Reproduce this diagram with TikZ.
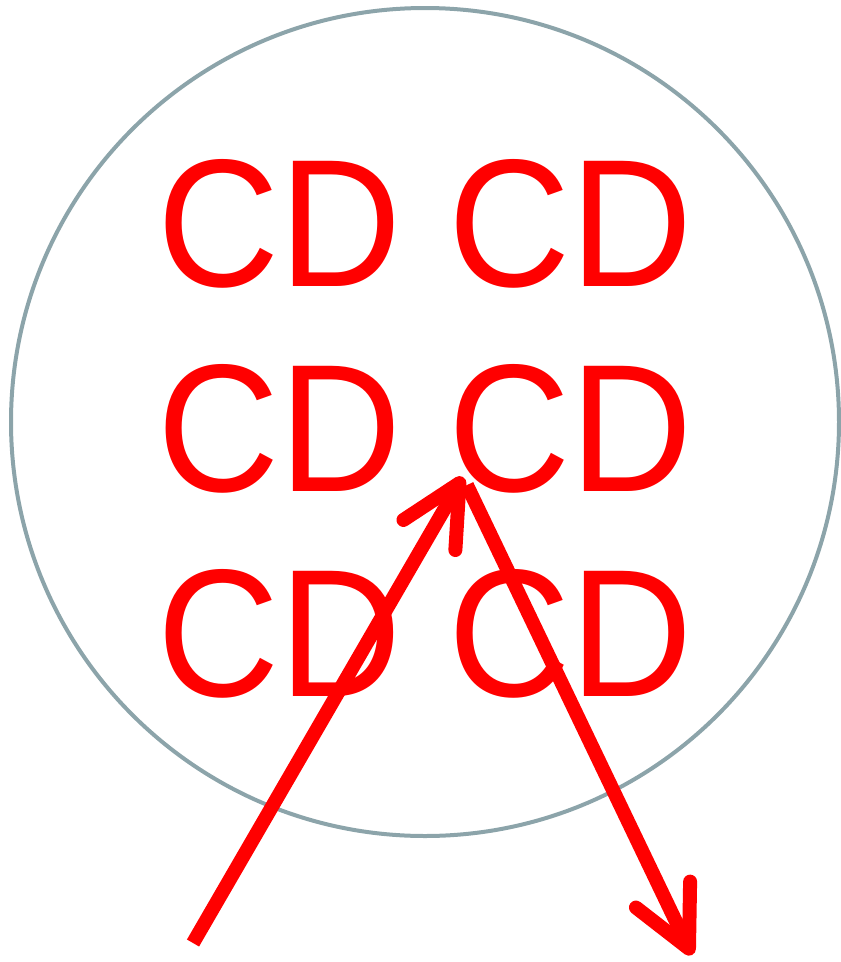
\documentclass[tikz,border=0pt]{standalone}
\usepackage{fontspec}
\setmainfont{Liberation Sans}
\usetikzlibrary{arrows.meta, calc}
\definecolor{rojo}{RGB}{255,0,0}
\definecolor{borde}{RGB}{140,164,170}
\tikzset{
  anillo/.style={draw=borde, line width=4pt},
  sigla/.style={text=rojo, font=\fontsize{182}{182}\selectfont, inner sep=0pt,
    anchor=base, xscale=0.93},
  flecha/.style={draw=rojo, line width=14pt,
    -{Straight Barb[length=60pt, width=60pt, round]}}
}
\begin{document}
\begin{tikzpicture}[x=1pt, y=-1pt]
  \useasboundingbox (0,0) rectangle (841,962);
  \node[anillo, circle, minimum size=828pt, inner sep=0pt] (disco) at (425,422) {};
  % filas de texto
  \node[sigla] (fila1) at (425,286) {CD CD};
  \node[sigla] (fila2) at (425,491) {CD CD};
  \node[sigla] (fila3) at (425,696) {CD CD};
  % flechas
  \coordinate (entrada) at (193,943);
  \coordinate (cima) at (463,477);
  \coordinate (salida) at (692,955);
  \draw[flecha] (entrada) -- (cima);
  \draw[flecha] ($(cima)!9pt!(salida)$) -- (salida);
\end{tikzpicture}
\end{document}
